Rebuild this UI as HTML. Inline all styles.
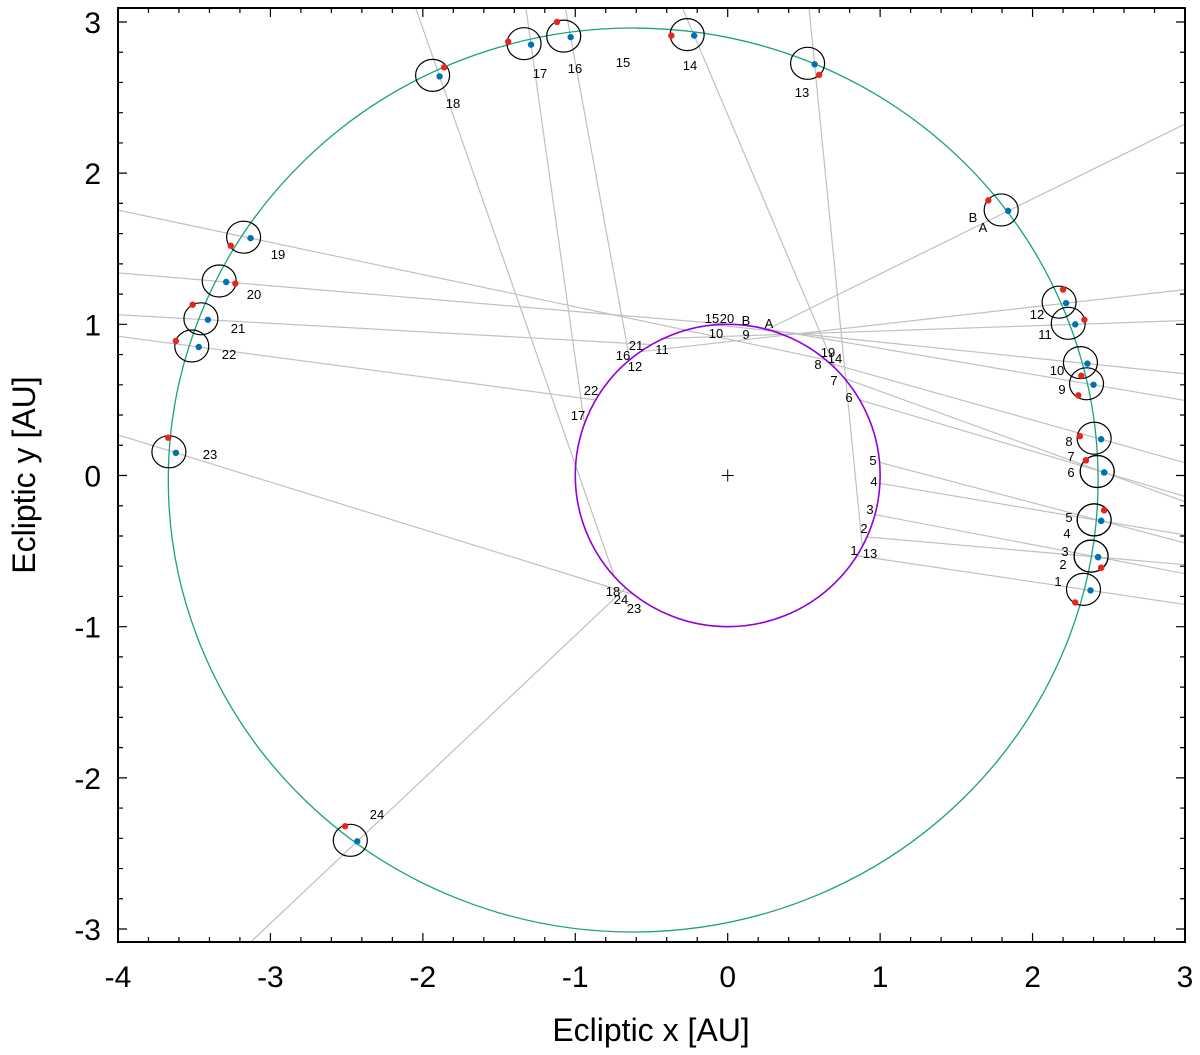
<!DOCTYPE html>
<html><head><meta charset="utf-8"><style>
html,body{margin:0;padding:0;background:#fff}
svg{display:block;font-family:"Liberation Sans",sans-serif}
</style></head><body>
<svg id="chart" width="1200" height="1055" viewBox="0 0 1200 1055" xmlns="http://www.w3.org/2000/svg">
<defs><clipPath id="clip"><rect x="118" y="8" width="1067" height="934"/></clipPath></defs>
<g id="grid" clip-path="url(#clip)"></g>
<g id="axes"></g>
<text x="651" y="1041" font-size="32" text-anchor="middle">Ecliptic x [AU]</text>
<text transform="translate(35,475) rotate(-90)" font-size="32" text-anchor="middle">Ecliptic y [AU]</text>
</svg>
<script>
const xTicks=[-4,-3,-2,-1,0,1,2,3];
const yTicks=[-3,-2,-1,0,1,2,3];
const obsLabels=["1","2","3","4","5","6","7","8","9","10","11","12","A","13","14","16","17","18","19","20","21","22","23","24"];
const astX=[2.38,2.43,2.43,2.45,2.45,2.47,2.47,2.45,2.40,2.36,2.28,2.22,1.84,0.57,-0.22,-1.03,-1.29,-1.89,-3.13,-3.29,-3.41,-3.47,-3.62,-2.43];
const astY=[-0.76,-0.54,-0.54,-0.30,-0.30,0.02,0.02,0.24,0.60,0.74,1.00,1.14,1.75,2.72,2.91,2.90,2.85,2.64,1.57,1.28,1.03,0.85,0.15,-2.42];
const redX=[2.28,2.45,2.45,2.47,2.47,2.35,2.35,2.31,2.30,2.32,2.34,2.20,1.71,0.60,-0.37,-1.12,-1.44,-1.86,-3.26,-3.23,-3.51,-3.62,-3.67,-2.51];
const redY=[-0.84,-0.61,-0.61,-0.23,-0.23,0.10,0.10,0.26,0.53,0.66,1.03,1.23,1.82,2.65,2.91,3.00,2.87,2.70,1.52,1.27,1.13,0.89,0.25,-2.32];
const earthDeg=[-32,-24,-15,-3,5,30,40,48,83,95,115,125,75,-28,45,130,160,222,50,90,120,150,232,228];
const orbitCenter=[-0.62,-0.03];
const orbitAxes=[3.05,2.99];

const NS="http://www.w3.org/2000/svg";
const X=v=>727.7+v*152.43, Y=v=>475.5-v*151.17;
const L=118,R=1185,T=8,B=942;
function mk(tag,attrs,parent){const e=document.createElementNS(NS,tag);for(const k in attrs)e.setAttribute(k,attrs[k]);parent.appendChild(e);return e;}
const g=document.getElementById('grid'), ax=document.getElementById('axes');

for(let i=0;i<astX.length;i++){
  const ex=Math.cos(earthDeg[i]*Math.PI/180), ey=Math.sin(earthDeg[i]*Math.PI/180);
  const x0=X(ex),y0=Y(ey),x1=X(astX[i]),y1=Y(astY[i]);
  let dx=x1-x0,dy=y1-y0,t=1e9;
  if(dx>0)t=Math.min(t,(R-x0)/dx); if(dx<0)t=Math.min(t,(L-x0)/dx);
  if(dy>0)t=Math.min(t,(B-y0)/dy); if(dy<0)t=Math.min(t,(T-y0)/dy);
  const ln=mk('line',{x1:x0,y1:y0,x2:x0+dx*t,y2:y0+dy*t,stroke:'#c0c0c0','stroke-width':1.2},g);
  
  
}
const orb=mk('ellipse',{cx:X(orbitCenter[0]),cy:Y(orbitCenter[1]),rx:orbitAxes[0]*152.43,ry:orbitAxes[1]*151.17,fill:'none',stroke:'#1aa37a','stroke-width':1.3},g);


const eo=mk('ellipse',{cx:X(0),cy:Y(0),rx:152.43,ry:151.17,fill:'none',stroke:'#9400d3','stroke-width':1.6},g);


const sun=mk('path',{d:`M${X(0)-6},${Y(0)}h12M${X(0)},${Y(0)-6}v12`,stroke:'#000','stroke-width':1},g);


for(let i=0;i<astX.length;i++){
  const c=mk('ellipse',{cx:X(astX[i])-7,cy:Y(astY[i])-1,rx:17,ry:16,fill:'none',stroke:'#000','stroke-width':1.2},g);
  
  
  const r=mk('circle',{cx:X(redX[i]),cy:Y(redY[i]),r:3.2,fill:'#e8251c'},g);
  
  
  const b=mk('circle',{cx:X(astX[i]),cy:Y(astY[i]),r:3.2,fill:'#0072b2'},g);
  
  
}
const textLabels=[["1",1058,586],["3",1065,556],["2",1063,569],["5",1069,522],["4",1067,538],["7",1071,461],["6",1071,477],["8",1069,446],["9",1062,394],["10",1057,375],["11",1045,339],["12",1037,319],["B",973,222],["A",983,232],["13",802,97],["14",690,70],["15",623,67],["16",575,73],["17",540,78],["18",453,108],["19",278,259],["20",254,299],["21",238,333],["22",229,359],["23",210,459],["24",377,819],
["15",712,323],["20",727,323],["B",746,325],["A",769,328],["10",716,338],["9",746,339],["21",636,350],["11",662,354],["16",623,360],["12",635,371],["19",828,357],["14",835,363],["8",818,369],["7",834,385],["6",849,402],["22",591,395],["17",578,420],["5",873,465],["4",874,486],["3",870,514],["2",864,533],["1",854,555],["13",870,558],["18",613,596],["24",621,604],["23",634,613]];
for(const [t,x,y] of textLabels){
  const e=mk('text',{x:x,y:y,'font-size':13,'text-anchor':'middle'},g);e.textContent=t;
  
  
}
const fr=mk('rect',{x:L,y:T,width:R-L,height:B-T,fill:'none',stroke:'#000','stroke-width':2},ax);


let d='';
for(let v=-4;v<=3.001;v+=0.2){const x=X(v),maj=Math.abs(v-Math.round(v))<1e-6,len=maj?9:5;d+=`M${x},${B}v${-len}M${x},${T}v${len}`;}
for(let v=-3;v<=3.001;v+=0.2){const y=Y(v),maj=Math.abs(v-Math.round(v))<1e-6,len=maj?9:5;d+=`M${L},${y}h${len}M${R},${y}h${-len}`;}
const tk=mk('path',{d:d,stroke:'#000','stroke-width':1.2},ax);


for(const v of xTicks){const e=mk('text',{x:X(v),y:987,'font-size':30,'text-anchor':'middle'},ax);e.textContent=v;
  
  }
for(const v of yTicks){const e=mk('text',{x:101,y:Y(v)+11,'font-size':30,'text-anchor':'end'},ax);e.textContent=v;
  
  }
</script>
</body></html>
